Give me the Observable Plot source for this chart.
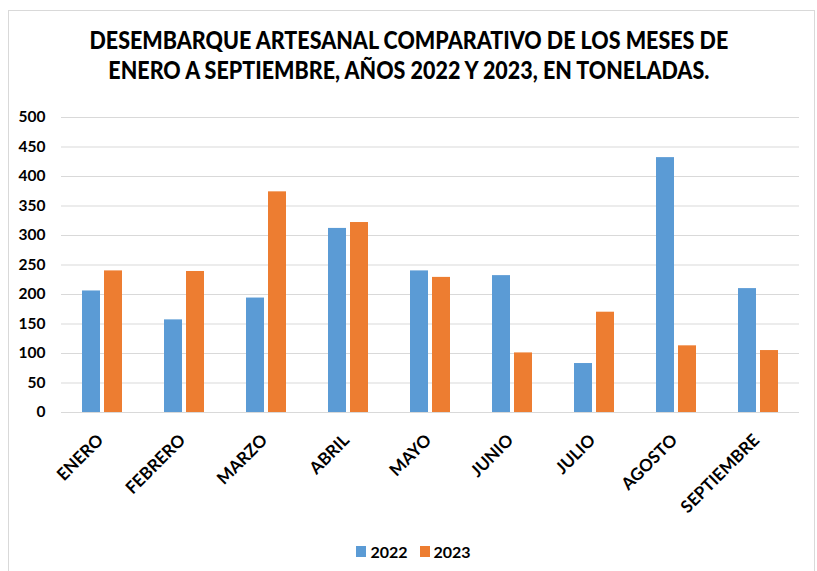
<!DOCTYPE html>
<html>
<head>
<meta charset="utf-8">
<script src="https://cdn.jsdelivr.net/npm/d3@7"></script>
<script src="https://cdn.jsdelivr.net/npm/@observablehq/plot@0.6"></script>
<style>
  body { margin: 0; background: #fff; }
  #wrap { position: relative; width: 817px; height: 571px; overflow: hidden; font-family: Lato, "Liberation Sans", sans-serif; }
  #frame { position: absolute; left: 8px; top: 10px; width: 807px; height: 600px; border: 1px solid #d9d9d9; box-sizing: border-box; }
  #title { position: absolute; left: 0; top: 25px; width: 817px; text-align: center; font-weight: 900; font-size: 24px; line-height: 29.5px; color: #000; transform: scaleX(0.895); transform-origin: 412px 0; }
  #chart { position: absolute; left: 0; top: 100px; }
  #legend { position: absolute; left: 5px; top: 540px; width: 817px; height: 22px; display: flex; align-items: center; justify-content: center; font-weight: bold; font-size: 16px; color: #000; }
  .sw { width: 10px; height: 11px; display: inline-block; margin-right: 4px; }
  .item { display: flex; align-items: center; margin: 0 6px; }
</style>
</head>
<body>
<div id="wrap">
  <div id="frame"></div>
  <div id="title">DESEMBARQUE ARTESANAL COMPARATIVO DE LOS MESES DE<br>ENERO A SEPTIEMBRE, AÑOS 2022 Y 2023, EN TONELADAS.</div>
  <div id="chart"></div>
  <div id="legend"></div>
</div>
<script>
const months = ["ENERO", "FEBRERO", "MARZO", "ABRIL", "MAYO", "JUNIO", "JULIO", "AGOSTO", "SEPTIEMBRE"];
const years = ["2022", "2023"];
const values2022 = [206, 157, 194, 312, 240, 232, 83, 432, 210];
const values2023 = [240, 239, 374, 322, 229, 101, 170, 113, 105];
const yTicks = [0, 50, 100, 150, 200, 250, 300, 350, 400, 450, 500];
const colors = ["#5B9BD5", "#ED7D31"];

const data = months.flatMap((m, i) => [
  {month: m, year: years[0], value: values2022[i]},
  {month: m, year: years[1], value: values2023[i]}
]);

const fontFamily = 'Lato, "Liberation Sans", sans-serif';

const chart = Plot.plot({
  width: 817,
  height: 430,
  marginLeft: 60,
  marginRight: 17,
  marginTop: 17,
  marginBottom: 118,
  style: {fontFamily, fontWeight: "bold", fontSize: "15px", color: "#000", background: "transparent", overflow: "visible"},
  fx: {domain: months, padding: 0, label: null, axis: null},
  x: {domain: years, paddingInner: 0.174, paddingOuter: 0.874, axis: null},
  y: {domain: [0, 500], label: null},
  color: {domain: years, range: colors},
  marks: [
    Plot.gridY(yTicks, {stroke: "#d9d9d9", strokeOpacity: 1, strokeWidth: 1}),
    Plot.barY(data, {fx: "month", x: "year", y: "value", fill: "year"}),
    Plot.axisY(yTicks, {tickSize: 0, tickPadding: 16, label: null, fontSize: 15.5, fontWeight: "bold"}),
    Plot.axisFx({anchor: "bottom", tickRotate: -45, tickSize: 0, tickPadding: 25, label: null, fontSize: 17, fontWeight: "bold", dx: -2})
  ]
});
document.getElementById("chart").appendChild(chart);

const legend = document.getElementById("legend");
years.forEach((y, i) => {
  const item = document.createElement("span");
  item.className = "item";
  const sw = document.createElement("span");
  sw.className = "sw";
  sw.style.background = colors[i];
  item.appendChild(sw);
  item.appendChild(document.createTextNode(y));
  legend.appendChild(item);
});
</script>
</body>
</html>
